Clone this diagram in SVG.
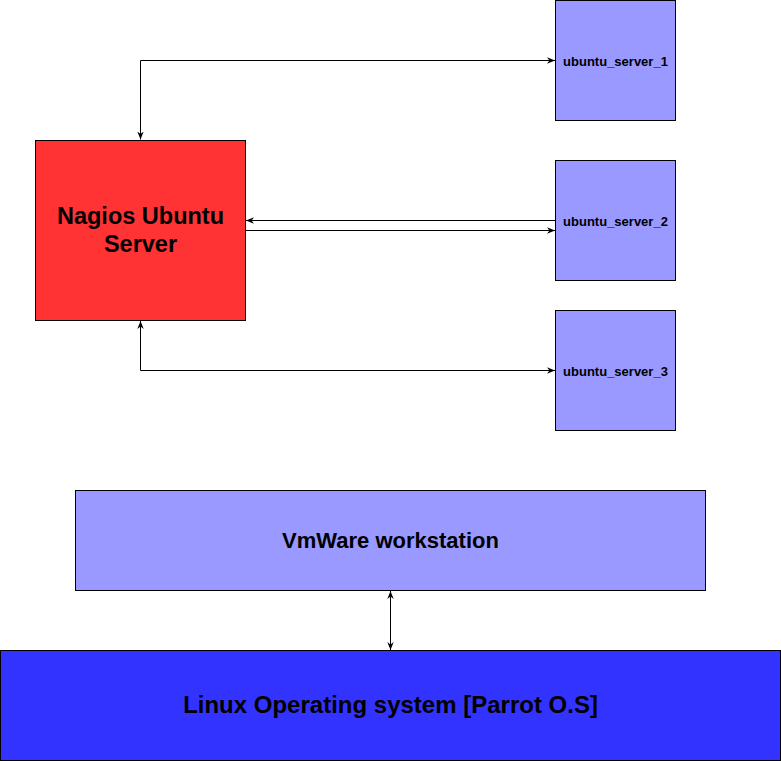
<svg xmlns="http://www.w3.org/2000/svg" width="781" height="761" viewBox="0 0 781 761">
<style>
  .box{stroke:#000;stroke-width:1}
  .srv{fill:#9999FF}
  .t{font-family:"Liberation Sans",Arial,sans-serif;font-weight:bold;text-anchor:middle;fill:#000}
  .edge{fill:none;stroke:#000;stroke-width:1}
</style>
<defs>
  <marker id="ah" viewBox="0 0 10 10" refX="10" refY="5" markerWidth="8" markerHeight="8" orient="auto-start-reverse" markerUnits="userSpaceOnUse">
    <path d="M0,1 L10,5 L0,9 L3,5 Z" fill="#000"/>
  </marker>
</defs>
<rect width="781" height="761" fill="#fff"/>
<g id="edges">
  <path class="edge" d="M140.5,139.5 V60.5 H555" marker-start="url(#ah)" marker-end="url(#ah)"/>
  <path class="edge" d="M555,220.5 H246" marker-end="url(#ah)"/>
  <path class="edge" d="M246,230.5 H555" marker-end="url(#ah)"/>
  <path class="edge" d="M140.5,321 V370.5 H555" marker-start="url(#ah)" marker-end="url(#ah)"/>
  <path class="edge" d="M390.5,591 V650" marker-start="url(#ah)" marker-end="url(#ah)"/>
</g>
<g id="nagios">
  <rect class="box" x="35.5" y="140.5" width="210" height="180" fill="#FF3333"/>
  <text class="t" x="140.5" y="224" font-size="23.5">Nagios Ubuntu</text>
  <text class="t" x="140.5" y="252" font-size="23.5">Server</text>
</g>
<g id="server1">
  <rect class="box srv" x="555.5" y="0.5" width="120" height="120"/>
  <text class="t" x="615.5" y="66" font-size="13">ubuntu_server_1</text>
</g>
<g id="server2">
  <rect class="box srv" x="555.5" y="160.5" width="120" height="120"/>
  <text class="t" x="615.5" y="226" font-size="13">ubuntu_server_2</text>
</g>
<g id="server3">
  <rect class="box srv" x="555.5" y="310.5" width="120" height="120"/>
  <text class="t" x="615.5" y="376" font-size="13">ubuntu_server_3</text>
</g>
<g id="vmware">
  <rect class="box srv" x="75.5" y="490.5" width="630" height="100"/>
  <text class="t" x="390.5" y="548" font-size="22">VmWare workstation</text>
</g>
<g id="linux">
  <rect class="box" x="0.5" y="650.5" width="780" height="110" fill="#3333FF"/>
  <text class="t" x="390.5" y="713" font-size="24">Linux Operating system [Parrot O.S]</text>
</g>
</svg>
